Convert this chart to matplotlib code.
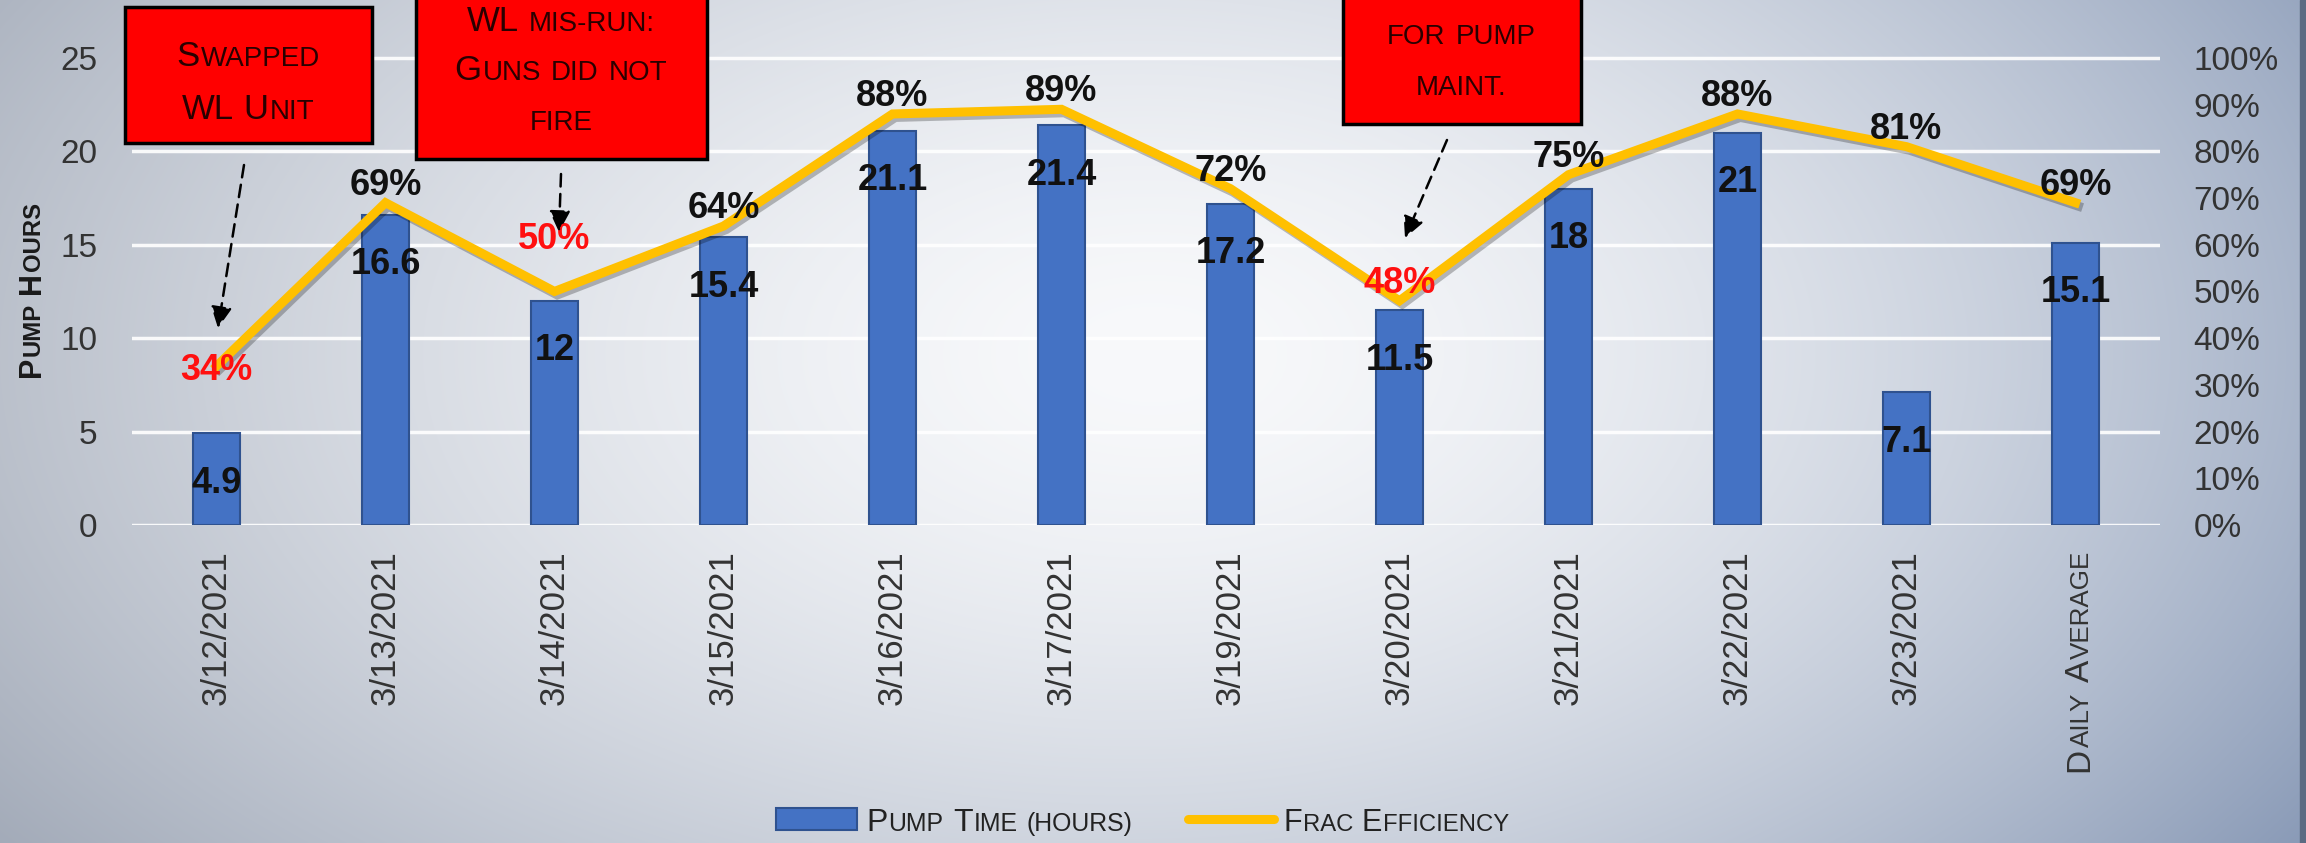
import numpy as np
import matplotlib
matplotlib.use('Agg')
import matplotlib.pyplot as plt
import matplotlib.patheffects as pe
from matplotlib.patches import Rectangle, FancyArrowPatch
from matplotlib.lines import Line2D
from matplotlib.ticker import PercentFormatter, MultipleLocator
from matplotlib.transforms import IdentityTransform

plt.rcParams['font.family'] = ['Liberation Sans', 'DejaVu Sans']

# data
categories = ['3/12/2021', '3/13/2021', '3/14/2021', '3/15/2021', '3/16/2021', '3/17/2021',
              '3/19/2021', '3/20/2021', '3/21/2021', '3/22/2021', '3/23/2021', 'Daily Average']
pump_hours = [4.9, 16.6, 12, 15.4, 21.1, 21.4, 17.2, 11.5, 18, 21, 7.1, 15.1]
frac_eff = [34, 69, 50, 64, 88, 89, 72, 48, 75, 88, 81, 69]
flagged = [0, 2, 7]
notes = [['Swapped', 'WL Unit'],
         ['WL mis-run:', 'Guns did not', 'fire'],
         ['for pump', 'maint.']]
legend_labels = ['Pump Time (hours)', 'Frac Efficiency']
y_label = 'Pump Hours'

W, H = 2306, 843
BLUE, BLUE_EDGE, GOLD = '#4472C4', '#2F528F', '#FFC000'
TXT = '#333333'

fig = plt.figure(figsize=(W / 100, H / 100), dpi=100)
renderer = fig.canvas.get_renderer()


def sc_text(x, y, s, size, rot=0, align='center', ratio=0.78, **kw):
    # fake small caps: capitals full size, lower case letters as smaller capitals
    items = []
    for wi, word in enumerate(s.split(' ')):
        if wi:
            items.append(None)
        run, big = '', None
        for ch in word:
            b = ch.isupper()
            if big is not None and b != big:
                items.append((run, big))
                run = ''
            run += ch
            big = b
        if run:
            items.append((run, big))
    texts, widths = [], []
    for it in items:
        if it is None:
            texts.append(None)
            widths.append(size * 0.26 * 100 / 72)
            continue
        t = fig.text(0, 0, it[0].upper(), fontsize=size if it[1] else size * ratio,
                     rotation=rot, rotation_mode='anchor', ha='left', va='baseline',
                     transform=IdentityTransform(), **kw)
        bb = t.get_window_extent(renderer)
        texts.append(t)
        widths.append((bb.width if rot == 0 else bb.height) + 1)
    total = sum(widths)
    along = x if rot == 0 else y
    pos = {'center': along - total / 2, 'left': along, 'right': along - total}[align]
    for t, w in zip(texts, widths):
        if t is not None:
            t.set_position((pos, y) if rot == 0 else (x, pos))
        pos += w


# background gradient
yy, xx = np.mgrid[0:H, 0:W]
u, v = xx / W, yy / H
r = np.sqrt(((u - 0.5) / 0.62) ** 2 + ((v - 0.42) / 1.0) ** 2)
t = np.clip(r, 0, 1) ** 1.6
center = np.array([248, 249, 251]) / 255
edge = (np.array([162, 170, 184]) / 255) * (1 - u)[..., None] + (np.array([136, 153, 182]) / 255) * u[..., None]
bg = center * (1 - t)[..., None] + edge * t[..., None]
bax = fig.add_axes([0, 0, 1, 1], zorder=-5)
bax.imshow(bg, aspect='auto', extent=(0, 1, 0, 1))
bax.axis('off')
fig.add_artist(Rectangle((W - 6, 0), 6, H, transform=IdentityTransform(), color='#5B6B82', zorder=1))

# plot area
ax = fig.add_axes([132 / W, (H - 525) / H, (2160 - 132) / W, 525 / H])
ax.patch.set_visible(False)
x = np.arange(len(categories))
ax.bar(x, pump_hours, width=0.28, color=BLUE, edgecolor=BLUE_EDGE, lw=1.5, zorder=3)
ax.set_xlim(-0.5, len(categories) - 0.5)
ax.set_ylim(0, 28.1)
ax.yaxis.set_major_locator(MultipleLocator(5))
ax.yaxis.grid(True, color='white', lw=2.5, alpha=0.9)
ax.set_axisbelow(True)
for s in ax.spines.values():
    s.set_visible(False)
ax.set_xticks(x)
ax.set_xticklabels(categories[:-1] + [''], rotation=90, va='top')
ax.tick_params(axis='x', length=0, pad=18, labelsize=25, labelcolor=TXT)
ax.tick_params(axis='y', length=0, pad=25, labelsize=24, labelcolor=TXT)
ax.set_yticks([0, 5, 10, 15, 20, 25])

ax2 = ax.twinx()
ax2.set_ylim(0, 28.1 / 25)
ax2.plot(x, np.array(frac_eff) / 100, color=GOLD, lw=6.5, solid_joinstyle='miter', zorder=4,
         path_effects=[pe.SimpleLineShadow(offset=(2, -2.5), alpha=0.25), pe.Normal()])
ax2.set_yticks(np.arange(0, 1.01, 0.1))
ax2.yaxis.set_major_formatter(PercentFormatter(1.0, decimals=0))
ax2.tick_params(axis='y', length=0, pad=24, labelsize=24, labelcolor=TXT)
for s in ax2.spines.values():
    s.set_visible(False)

# data labels
for i, val in enumerate(pump_hours):
    ax2.annotate(f'{val:g}', (i, val / 25), xytext=(0, -36), textcoords='offset points',
                 ha='center', va='center', fontsize=26, weight='bold', color='#111111', zorder=6)
pct_nudge = {0: -16, 2: 25}
for i, val in enumerate(frac_eff):
    ax2.annotate(f'{val}%', (i, val / 100), xytext=(0, pct_nudge.get(i, 0)), textcoords='offset points',
                 ha='center', va='bottom', fontsize=26, weight='bold',
                 color='#FF1010' if i in flagged else '#111111', zorder=6)

# custom last tick label and axis title
cx = ax.transData.transform((len(categories) - 1, 0))[0]
sc_text(cx + 13, H - 550, categories[-1], 24, rot=90, align='right', color=TXT)
sc_text(40, H - 289, y_label, 22, rot=90, align='center', color='#1a1a1a', weight='bold')

# callout boxes (pixel layout, image coords from top)
boxes = [(125, 7, 372, 143), (416, -20, 707, 159), (1343, -20, 1581, 124)]
line_y = [[54, 107], [19, 68, 118], [32, 83]]
arrows = [((244, 165), (218, 328)), ((561, 174), (559, 232)), ((1447, 140), (1405, 238))]
for (x0, y0, x1, y1), lines, ys, (a, b) in zip(boxes, notes, line_y, arrows):
    fig.add_artist(Rectangle((x0, H - y1), x1 - x0, y1 - y0, transform=IdentityTransform(),
                             facecolor='#FF0000', edgecolor='black', lw=2.5, zorder=5))
    for txt, yc in zip(lines, ys):
        sc_text((x0 + x1) / 2, H - yc - 12, txt, 25, ratio=0.8, color='#2a0000', zorder=6)
    fig.add_artist(FancyArrowPatch((a[0], H - a[1]), (b[0], H - b[1]), transform=IdentityTransform(),
                                   arrowstyle='-|>', mutation_scale=32, linestyle=(0, (5, 3)),
                                   lw=1.8, color='black', shrinkA=0, shrinkB=0, zorder=6))

# legend
ly = H - 819
fig.add_artist(Rectangle((776, ly - 11), 81, 22, transform=IdentityTransform(),
                         facecolor=BLUE, edgecolor=BLUE_EDGE, lw=1.5, zorder=5))
sc_text(866, ly - 12, legend_labels[0], 23, align='left', color='#222222', zorder=6)
fig.add_artist(Line2D([1188, 1274], [ly, ly], transform=IdentityTransform(), color=GOLD, lw=6.5,
                      solid_capstyle='round', zorder=5))
sc_text(1283, ly - 12, legend_labels[1], 22, align='left', color='#222222', zorder=6)

fig.savefig('out.png', dpi=100)
